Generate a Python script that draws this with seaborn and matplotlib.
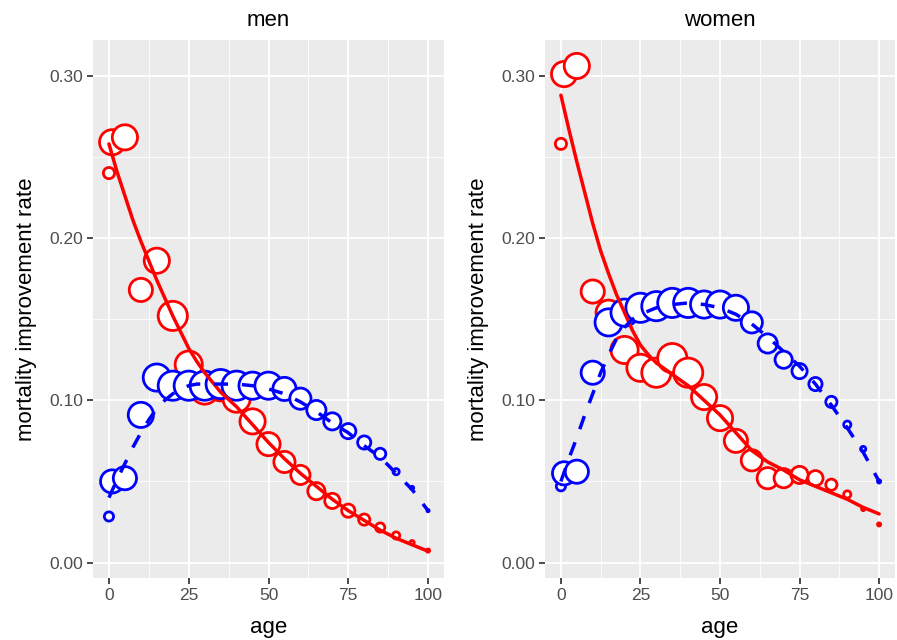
import numpy as np
import pandas as pd
import matplotlib.pyplot as plt
import seaborn as sns
from matplotlib.ticker import MultipleLocator, FormatStrFormatter


# ages of the observed points and of the fitted curves
ages = [0, 1, 5, 10, 15, 20, 25, 30, 35, 40, 45, 50, 55, 60, 65, 70, 75, 80, 85, 90, 95, 100]
fit_ages = [0, 2.5, 5, 7.5, 10, 12.5, 15, 17.5, 20, 22.5, 25, 27.5, 30, 35, 40, 45, 50,
            55, 60, 65, 70, 75, 80, 85, 90, 95, 100]

# observed improvement rates
men_red = [0.240, 0.259, 0.262, 0.168, 0.186, 0.152, 0.122, 0.106, 0.108, 0.101, 0.087,
           0.073, 0.062, 0.054, 0.044, 0.038, 0.032, 0.0265, 0.0216, 0.0167, 0.0123, 0.0074]
men_blue = [0.0284, 0.050, 0.052, 0.091, 0.114, 0.109, 0.109, 0.109, 0.110, 0.109, 0.109,
            0.109, 0.107, 0.101, 0.094, 0.087, 0.081, 0.074, 0.067, 0.056, 0.046, 0.032]
women_red = [0.258, 0.301, 0.306, 0.167, 0.154, 0.131, 0.120, 0.117, 0.126, 0.117, 0.102,
             0.089, 0.075, 0.063, 0.052, 0.052, 0.054, 0.052, 0.048, 0.042, 0.033, 0.0235]
women_blue = [0.047, 0.055, 0.056, 0.117, 0.148, 0.154, 0.157, 0.158, 0.160, 0.160, 0.159,
              0.159, 0.157, 0.148, 0.135, 0.125, 0.118, 0.110, 0.099, 0.085, 0.070, 0.050]

# weights (shown as circle size)
men_red_w = [7, 14, 14, 13, 14, 16, 15, 15, 15, 15, 14, 13, 12, 11, 10, 9, 8, 7, 6, 5, 3.5, 3]
men_blue_w = [6, 13, 13, 14, 15, 16, 16, 16, 16, 16, 15, 15, 13, 12, 11, 10, 9, 8, 7, 4.5, 3, 2.5]
women_red_w = [7, 14, 14, 13, 14, 15, 15, 16, 16, 16, 14, 14, 13, 12, 12, 11, 10, 9, 7, 5, 3, 3]
women_blue_w = [6, 13, 13, 13, 15, 15, 16, 16, 16, 16, 15, 15, 14, 12, 11, 10, 9, 8, 7, 5, 4, 3]

# fitted curves
men_red_fit = [0.258, 0.241, 0.226, 0.211, 0.198, 0.186, 0.174, 0.163, 0.152, 0.142, 0.132,
               0.124, 0.117, 0.105, 0.096, 0.085, 0.074, 0.064, 0.055, 0.047, 0.039,
               0.032, 0.026, 0.020, 0.015, 0.011, 0.007]
men_blue_fit = [0.040, 0.051, 0.061, 0.071, 0.080, 0.088, 0.095, 0.100, 0.104, 0.107, 0.109,
                0.110, 0.110, 0.110, 0.110, 0.109, 0.107, 0.104, 0.099, 0.093, 0.086,
                0.080, 0.072, 0.065, 0.055, 0.045, 0.032]
women_red_fit = [0.288, 0.267, 0.247, 0.228, 0.209, 0.192, 0.178, 0.165, 0.154, 0.143, 0.134,
                 0.128, 0.123, 0.116, 0.109, 0.100, 0.091, 0.080, 0.069, 0.062, 0.057,
                 0.051, 0.047, 0.043, 0.039, 0.034, 0.030]
women_blue_fit = [0.050, 0.064, 0.077, 0.091, 0.104, 0.117, 0.128, 0.138, 0.145, 0.150, 0.153,
                  0.155, 0.157, 0.159, 0.160, 0.159, 0.157, 0.153, 0.147, 0.139, 0.130,
                  0.121, 0.110, 0.097, 0.083, 0.068, 0.050]


sns.set_theme(style="darkgrid", rc={
    "axes.facecolor": "#EBEBEB",
    "grid.color": "white",
    "xtick.bottom": True,
    "ytick.left": True,
    "xtick.major.size": 4,
    "ytick.major.size": 4,
    "xtick.color": "#333333",
    "ytick.color": "#333333",
    "text.color": "black",
    "axes.labelcolor": "black",
})
plt.rcParams['font.family'] = ['Liberation Sans', 'DejaVu Sans']


def area(w):
    # circle radius in px -> marker area in pt^2
    return ((np.array(w, dtype=float) - 1.4) * 2 * 0.72) ** 2


def panel(ax, title, red, blue, red_w, blue_w, red_fit, blue_fit):
    for vals, w, col, z in [(red, red_w, 'red', 2), (blue, blue_w, 'blue', 3)]:
        df = pd.DataFrame({'age': ages, 'rate': vals, 's': area(w)})
        lo, hi = df['s'].min(), df['s'].max()
        sns.scatterplot(data=df, x='age', y='rate', size='s', sizes=(lo, hi), size_norm=(lo, hi),
                        color='white', edgecolor=col, linewidth=2.0, legend=False, ax=ax, zorder=z)

    fit = pd.DataFrame({'age': fit_ages, 'red': red_fit, 'blue': blue_fit})
    sns.lineplot(data=fit, x='age', y='red', color='red', lw=2.5, ax=ax, zorder=4)
    sns.lineplot(data=fit, x='age', y='blue', color='blue', lw=2.5, ax=ax, zorder=5)
    ax.lines[-1].set_dashes([4, 4])
    ax.lines[-1].set_dash_capstyle('butt')

    ax.set_xlim(-5, 105)
    ax.set_ylim(-0.0095, 0.322)
    ax.xaxis.set_major_locator(MultipleLocator(25))
    ax.xaxis.set_minor_locator(MultipleLocator(12.5))
    ax.yaxis.set_major_locator(MultipleLocator(0.1))
    ax.yaxis.set_minor_locator(MultipleLocator(0.05))
    ax.yaxis.set_major_formatter(FormatStrFormatter('%.2f'))
    ax.grid(which='major', color='white', lw=1.3)
    ax.grid(which='minor', color='white', lw=0.6)
    ax.tick_params(which='minor', length=0)
    ax.tick_params(which='major', labelsize=12.5, labelcolor='#4D4D4D', pad=3)
    for sp in ax.spines.values():
        sp.set_visible(False)
    ax.set_title(title, fontsize=16, pad=10, color='black')
    ax.set_xlabel('age', fontsize=16, labelpad=10)
    ax.set_ylabel('mortality improvement rate', fontsize=16, labelpad=9)


fig = plt.figure(figsize=(8.97, 6.4), dpi=100)
ax1 = fig.add_axes([93 / 897, 62 / 640, 351 / 897, 538 / 640])
ax2 = fig.add_axes([545 / 897, 62 / 640, 350 / 897, 538 / 640])

panel(ax1, 'men', men_red, men_blue, men_red_w, men_blue_w, men_red_fit, men_blue_fit)
panel(ax2, 'women', women_red, women_blue, women_red_w, women_blue_w, women_red_fit, women_blue_fit)

fig.savefig('out.png', dpi=100)
